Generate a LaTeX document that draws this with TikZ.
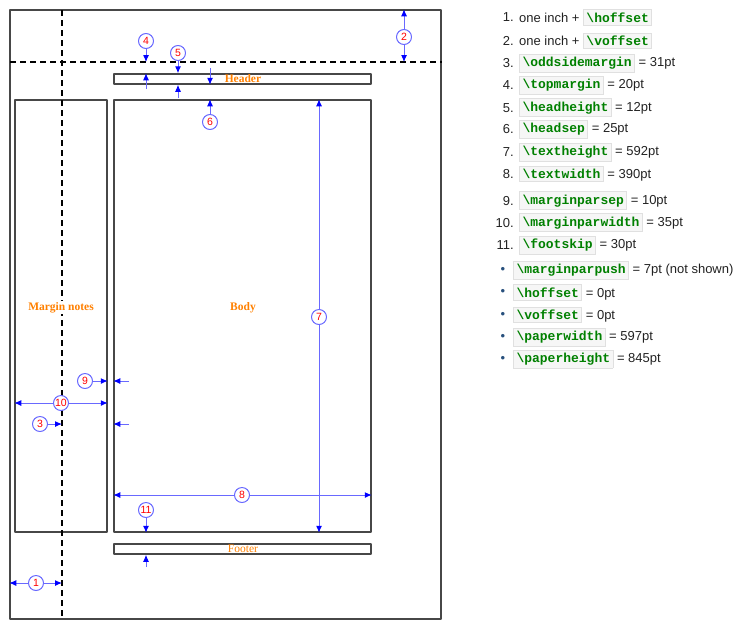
\documentclass[tikz,border=0pt]{standalone}
\usepackage{fontspec}
\setmainfont{Liberation Sans}
\newfontfamily\codefont{Liberation Mono}
\newfontfamily\partfont{Liberation Serif}
\usetikzlibrary{arrows.meta,positioning}

\definecolor{dimblue}{RGB}{105,105,255}
\definecolor{partorange}{RGB}{255,128,0}
\definecolor{codegreen}{RGB}{0,128,0}
\definecolor{boxfill}{RGB}{246,246,246}
\definecolor{boxline}{RGB}{224,224,224}
\definecolor{listtext}{RGB}{34,34,34}
\definecolor{bulletblue}{RGB}{40,80,125}

\newcommand{\cmd}[1]{{\setlength{\fboxsep}{2.5pt}\setlength{\fboxrule}{.8pt}%
  \fcolorbox{boxline}{boxfill}{\textcolor{codegreen}{\codefont\bfseries\textbackslash#1}}}}

\tikzset{
  pagebox/.style={draw=black!72,line width=1.5pt,inner sep=0pt},
  guide/.style={line width=1.5pt,dash pattern=on 6pt off 4pt},
  partname/.style={text=partorange,font=\partfont\bfseries\fontsize{11.5}{12}\selectfont,inner sep=1pt},
  dim/.style={draw=dimblue,line width=1pt,-{Latex[length=7pt,width=6pt,color=blue]}},
  num/.style={circle,draw=dimblue,line width=1pt,fill=white,text=red,inner sep=0pt,
    minimum size=15pt,font=\fontsize{10.5}{10.5}\selectfont},
  listitem/.style={text=listtext,font=\fontsize{13}{15}\selectfont,inner sep=0pt}
}

\begin{document}
\begin{tikzpicture}[x=1pt,y=-1pt,line cap=butt,line join=round]
  \useasboundingbox (0,0) rectangle (746,635);

  % page and its parts
  \node[pagebox,minimum width=431pt,minimum height=609pt] (paper) at (225.5,314.5) {};
  \node[pagebox,minimum width=257pt,minimum height=10pt] (header) at (242.5,79) {};
  \node[pagebox,minimum width=92pt,minimum height=432pt] (margin) at (61,316) {};
  \node[pagebox,minimum width=257pt,minimum height=432pt] (body) at (242.5,316) {};
  \node[pagebox,minimum width=257pt,minimum height=10pt] (footer) at (242.5,549) {};

  % one inch lines
  \coordinate (vguide) at (62,10);
  \coordinate (hguide) at (10,62);
  \draw[guide] (vguide) -- (vguide |- paper.south);
  \draw[guide] (hguide) -- (hguide -| paper.east);

  \node[partname] (headerlbl) at (243,79) {Header};
  \node[partname,fill=white] (marginlbl) at (61,307.5) {Margin notes};
  \node[partname] (bodylbl) at (243,307.5) {Body};
  \node[partname,font=\partfont\fontsize{11.5}{12}\selectfont] (footerlbl) at (243,548.5) {Footer};

  % numbered dimensions
  \node[num] (n1) at (36,583) {1};
  \draw[dim] (n1) -- (n1 -| paper.west);
  \draw[dim] (n1) -- (n1 -| vguide);

  \node[num] (n2) at (404,37) {2};
  \draw[dim] (n2) -- (n2 |- paper.north);
  \draw[dim] (n2) -- (n2 |- hguide);

  \node[num] (n3) at (40,424) {3};
  \draw[dim] (n3) -- (n3 -| vguide);
  \coordinate (tail3) at (129,424);
  \draw[dim] (tail3) -- (tail3 -| body.west);

  \node[num] (n4) at (146,41) {4};
  \draw[dim] (n4) -- (n4 |- hguide);
  \coordinate (tail4) at (146,89);
  \draw[dim] (tail4) -- (tail4 |- header.north);

  \node[num] (n5) at (178,53) {5};
  \draw[dim] (n5) -- (n5 |- header.north);
  \coordinate (tail5) at (178,98);
  \draw[dim] (tail5) -- (tail5 |- header.south);

  \node[num] (n6) at (210,122) {6};
  \draw[dim] (n6) -- (n6 |- body.north);
  \coordinate (tail6) at (210,68);
  \draw[dim] (tail6) -- (tail6 |- header.south);

  \node[num] (n7) at (319,317) {7};
  \draw[dim] (n7) -- (n7 |- body.north);
  \draw[dim] (n7) -- (n7 |- body.south);

  \node[num] (n8) at (242,495) {8};
  \draw[dim] (n8) -- (n8 -| body.west);
  \draw[dim] (n8) -- (n8 -| body.east);

  \node[num] (n9) at (85,381) {9};
  \draw[dim] (n9) -- (n9 -| margin.east);
  \coordinate (tail9) at (129,381);
  \draw[dim] (tail9) -- (tail9 -| body.west);

  \node[num] (n10) at (61,403) {10};
  \draw[dim] (n10) -- (n10 -| margin.west);
  \draw[dim] (n10) -- (n10 -| margin.east);

  \node[num] (n11) at (146,510) {11};
  \draw[dim] (n11) -- (n11 |- body.south);
  \coordinate (tail11) at (146,567);
  \draw[dim] (tail11) -- (tail11 |- footer.south);

  % parameter list
  \foreach \yy/\txt [count=\i] in {
      17.5/{one inch + \cmd{hoffset}},
      40.7/{one inch + \cmd{voffset}},
      63/{\cmd{oddsidemargin} = 31pt},
      85/{\cmd{topmargin} = 20pt},
      107.7/{\cmd{headheight} = 12pt},
      129.3/{\cmd{headsep} = 25pt},
      152/{\cmd{textheight} = 592pt},
      173.7/{\cmd{textwidth} = 390pt},
      200.7/{\cmd{marginparsep} = 10pt},
      222.7/{\cmd{marginparwidth} = 35pt},
      245/{\cmd{footskip} = 30pt}}
  {
    \node[listitem,anchor=east] (idx\i) at (514,\yy) {\i.};
    \node[listitem,anchor=west] (item\i) at (519,\yy) {\txt};
  }
  \foreach \yy/\txt [count=\i] in {
      270/{\cmd{marginparpush} = 7pt (not shown)},
      292.3/{\cmd{hoffset} = 0pt},
      315/{\cmd{voffset} = 0pt},
      337.3/{\cmd{paperwidth} = 597pt},
      359/{\cmd{paperheight} = 845pt}}
  {
    \node[listitem,text=bulletblue] (dot\i) at (503,\yy) {\textbullet};
    \node[listitem,anchor=west] (extra\i) at (513,\yy) {\txt};
  }
\end{tikzpicture}
\end{document}
